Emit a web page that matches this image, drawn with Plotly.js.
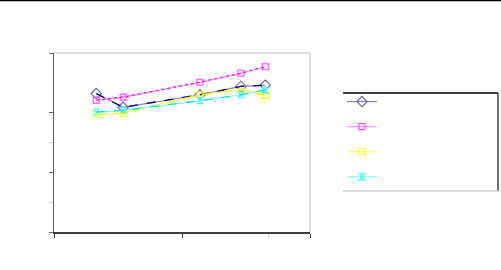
<!DOCTYPE html>
<html>
<head>
<meta charset="utf-8">
<script src="https://cdn.plot.ly/plotly-3.0.1.min.js"></script>
<style>html,body{margin:0;padding:0;background:#fff;}#chart{width:501px;height:270px;}</style>
</head>
<body>
<div id="chart"></div>
<script>
// Data (no labels are shown in the picture)
const xValues = [0.33, 0.54, 1.14, 1.46, 1.65];
const series1 = [2.32, 2.09, 2.30, 2.44, 2.46];
const series2 = [2.21, 2.26, 2.51, 2.66, 2.77];
const series3 = [1.97, 1.99, 2.30, 2.39, 2.29];
const series4 = [2.01, 2.04, 2.20, 2.30, 2.38];
const seriesNames = [" ", " ", " ", " "];

const styles = [
  {base: '#8080c0', over: '#000080', dash: 'dash', sym: 'diamond-open', mcol: '#6060b0', size: 8},
  {base: '#ff99ff', over: '#ff00ff', dash: 'dot', sym: 'square-open', mcol: '#ff40ff', size: 6},
  {base: '#ffff66', over: '#ffff00', dash: 'dash', sym: 'square-open', mcol: '#ffff00', size: 6},
  {base: '#88ffff', over: '#00e8e8', dash: 'dash', sym: 'hourglass-open', mcol: '#33ffff', size: 6}
];
const allSeries = [series1, series2, series3, series4];

const traces = [];
allSeries.forEach((ys, i) => {
  const s = styles[i];
  traces.push({
    x: xValues, y: ys, type: 'scatter', mode: 'lines+markers', name: seriesNames[i],
    line: {color: s.base, width: 1.2},
    marker: {symbol: s.sym, color: s.mcol, size: s.size, line: {width: 1.1, color: s.mcol}},
    legendrank: i
  });
});
allSeries.forEach((ys, i) => {
  const s = styles[i];
  traces.push({
    x: xValues, y: ys, type: 'scatter', mode: 'lines', showlegend: false, hoverinfo: 'skip',
    line: {color: s.over, width: 1.3, dash: s.dash}
  });
});

const H = 179, L = 54, W = 256;
const py = p => (232 - p) / H;
const px = p => (p - L) / W;

const layout = {
  width: 501, height: 270,
  margin: {l: 54, r: 191, t: 53, b: 38, pad: 0},
  paper_bgcolor: '#ffffff', plot_bgcolor: '#ffffff',
  showlegend: true,
  legend: {
    x: px(342), y: py(84), xanchor: 'left', yanchor: 'top',
    bgcolor: 'rgba(0,0,0,0)', borderwidth: 0,
    font: {family: 'DejaVu Sans', size: 17, color: '#000'},
    itemwidth: 30, tracegroupgap: 0
  },
  xaxis: {
    range: [0, 2], dtick: 1, tick0: 0, showticklabels: false, showgrid: false, zeroline: false,
    showline: true, linecolor: '#404040', linewidth: 1.5,
    ticks: 'outside', ticklen: 4, tickcolor: '#404040', tickwidth: 1,
    minor: {tickvals: [1.674], ticks: 'outside', ticklen: 4, tickcolor: '#d8d8d8', showgrid: false}
  },
  yaxis: {
    range: [0, 3], dtick: 1, tick0: 0, showticklabels: false, showgrid: false, zeroline: false,
    showline: true, linecolor: '#606060', linewidth: 1.5,
    ticks: 'outside', ticklen: 4, tickcolor: '#606060', tickwidth: 1,
    minor: {tickvals: [0.5, 1.5], ticks: 'outside', ticklen: 4, tickcolor: '#d0d0d0', showgrid: false}
  },
  shapes: [
    {type: 'line', xref: 'paper', yref: 'paper', x0: px(0), x1: px(501), y0: py(0.5), y1: py(0.5), line: {color: '#000', width: 1.5}},
    {type: 'line', xref: 'paper', yref: 'paper', x0: 0, x1: 1, y0: 1, y1: 1, line: {color: '#c0c0c0', width: 1.2}},
    {type: 'line', xref: 'paper', yref: 'paper', x0: 1, x1: 1, y0: 0, y1: 1, line: {color: '#c8c8c8', width: 1.2}},
    {type: 'line', xref: 'paper', yref: 'paper', x0: px(343), x1: px(498), y0: py(93), y1: py(93), line: {color: '#000', width: 1.5}},
    {type: 'line', xref: 'paper', yref: 'paper', x0: px(498), x1: px(498), y0: py(93), y1: py(191), line: {color: '#404040', width: 1.5}},
    {type: 'line', xref: 'paper', yref: 'paper', x0: px(343), x1: px(498), y0: py(191), y1: py(191), line: {color: '#b8b8b8', width: 1.2}}
  ]
};

Plotly.newPlot('chart', traces, layout, {displayModeBar: false, staticPlot: true});
</script>
</body>
</html>
